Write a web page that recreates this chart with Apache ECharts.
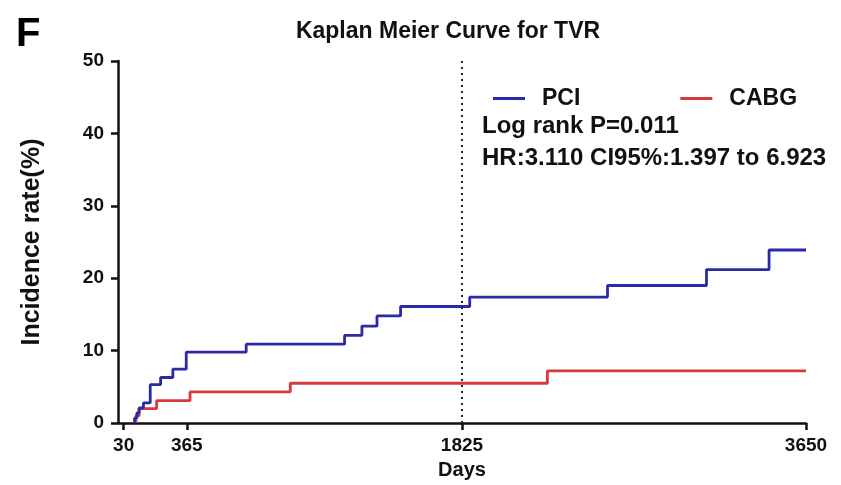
<!DOCTYPE html>
<html>
<head>
<meta charset="utf-8">
<script src="https://cdn.jsdelivr.net/npm/echarts@6/dist/echarts.min.js"></script>
<style>
  html, body { margin: 0; padding: 0; background: #fff; }
  #chart { width: 841px; height: 485px; }
</style>
</head>
<body>
<div id="chart"></div>
<script>
// KM step points: rate (%) applies from that day on
const pciDays = [88, 88, 100, 112, 135, 171, 226, 291, 362, 680, 1202, 1294, 1374, 1499, 1866, 2597, 3122, 3454, 3650]
const pciRate = [0, 0.7, 1.4, 2.1, 2.8, 5.3, 6.3, 7.45, 9.8, 10.9, 12.1, 13.4, 14.8, 16.1, 17.4, 19.0, 21.2, 23.9, 23.9]

const cabgDays = [95, 95, 112, 205, 382, 914, 2278, 3650]
const cabgRate = [0, 1.0, 2.0, 3.1, 4.3, 5.5, 7.2, 7.2]

const xTicks = [30, 365, 1825, 3650]
const cutoffDay = 1825

const FONT = '"Liberation Sans", Arial, sans-serif'

const chart = echarts.init(document.getElementById('chart'), null, { renderer: 'canvas' })

const zip = (xs, ys) => xs.map((x, i) => [x, ys[i]])

const option = {
  backgroundColor: '#fff',
  animation: false,
  title: [
    {
      text: 'F',
      left: 11,
      top: 10,
      textStyle: { fontFamily: FONT, fontSize: 40, fontWeight: 'bold', color: '#000' }
    },
    {
      text: 'Kaplan Meier Curve for TVR',
      left: 443,
      top: 15,
      textAlign: 'center',
      textStyle: { fontFamily: FONT, fontSize: 23, fontWeight: 'bold', color: '#111' }
    }
  ],
  legend: {
    data: ['PCI', 'CABG'],
    left: 488,
    top: 82,
    icon: 'rect',
    itemWidth: 32,
    itemHeight: 3,
    itemGap: 100,
    textStyle: { fontFamily: FONT, fontSize: 23, fontWeight: 'bold', color: '#111', padding: [0, 0, 0, 12] }
  },
  grid: { left: 118, right: 35, top: 61, bottom: 57, containLabel: false },
  xAxis: {
    type: 'value',
    min: 0,
    max: 3650,
    name: 'Days',
    nameLocation: 'middle',
    nameGap: 35,
    nameTextStyle: { fontFamily: FONT, fontSize: 20, fontWeight: 'bold', color: '#111' },
    splitLine: { show: false },
    axisLine: { lineStyle: { color: '#111', width: 2.5 } },
    axisTick: { customValues: xTicks, length: 7, lineStyle: { color: '#111', width: 2.5 } },
    axisLabel: {
      customValues: xTicks,
      formatter: v => String(v),
      margin: 13,
      fontFamily: FONT, fontSize: 19, fontWeight: 'bold', color: '#111'
    }
  },
  yAxis: {
    type: 'value',
    min: 0,
    max: 50,
    interval: 10,
    name: 'Incidence rate(%)',
    nameLocation: 'middle',
    nameGap: 73,
    nameTextStyle: { fontFamily: FONT, fontSize: 25, fontWeight: 'bold', color: '#111' },
    splitLine: { show: false },
    axisLine: { show: true, lineStyle: { color: '#111', width: 2.5 } },
    axisTick: { show: true, length: 7, lineStyle: { color: '#111', width: 2.5 } },
    axisLabel: { margin: 14, fontFamily: FONT, fontSize: 19, fontWeight: 'bold', color: '#111' }
  },
  graphic: [
    {
      type: 'text',
      left: 482,
      top: 114,
      style: { text: 'Log rank P=0.011', font: 'bold 24px ' + FONT, fill: '#111' }
    },
    {
      type: 'text',
      left: 482,
      top: 146,
      style: { text: 'HR:3.110 CI95%:1.397 to 6.923', font: 'bold 24px ' + FONT, fill: '#111' }
    }
  ],
  series: [
    {
      name: 'CABG',
      type: 'line',
      step: 'end',
      data: zip(cabgDays, cabgRate),
      symbol: 'none',
      color: '#d63a3c',
      lineStyle: { color: '#d63a3c', width: 2.8 },
      z: 2
    },
    {
      name: 'PCI',
      type: 'line',
      step: 'end',
      data: zip(pciDays, pciRate),
      symbol: 'none',
      color: '#2a2aa8',
      lineStyle: { color: '#2a2aa8', width: 2.8 },
      z: 3,
      markLine: {
        silent: true,
        symbol: 'none',
        label: { show: false },
        lineStyle: { type: [2, 4], color: '#222', width: 2 },
        data: [{ xAxis: cutoffDay }]
      }
    }
  ]
}

chart.setOption(option)

window.addEventListener('resize', () => {
  chart.resize()
})
</script>
</body>
</html>
